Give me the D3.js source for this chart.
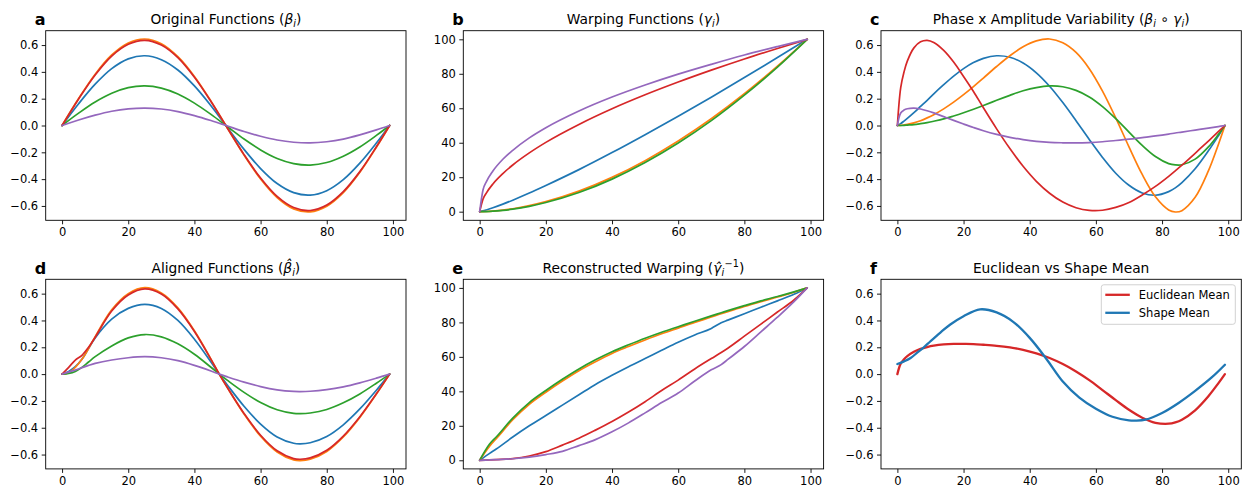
<!DOCTYPE html>
<html>
<head>
<meta charset="utf-8">
<script src="https://cdn.jsdelivr.net/npm/d3@7"></script>
<style>
  body { margin: 0; background: #fff; }
  svg { font-family: "DejaVu Sans", sans-serif; }
</style>
</head>
<body>
<svg id="fig" width="1244" height="491"></svg>
<script>
// ---- data ----
// a: original functions
const aX = [0,5,10,15,20,25,30,35,40,45,50,55,60,65,70,75,80,85,90,95,99];
const aBlue   = [0,0.162,0.308,0.424,0.497,0.520,0.491,0.414,0.295,0.147,-0.017,-0.178,-0.321,-0.433,-0.501,-0.519,-0.486,-0.404,-0.281,-0.131,0];
const aOrange = [0,0.201,0.383,0.526,0.616,0.645,0.610,0.513,0.366,0.182,-0.021,-0.221,-0.399,-0.537,-0.622,-0.644,-0.602,-0.501,-0.349,-0.162,0];
const aGreen  = [0,0.092,0.175,0.240,0.282,0.295,0.279,0.235,0.167,0.083,-0.009,-0.101,-0.182,-0.246,-0.284,-0.295,-0.276,-0.229,-0.160,-0.074,0];
const aRed    = [0,0.198,0.377,0.518,0.606,0.635,0.600,0.506,0.360,0.179,-0.020,-0.217,-0.392,-0.529,-0.612,-0.634,-0.593,-0.493,-0.344,-0.159,0];
const aPurple = [0,0.041,0.077,0.106,0.124,0.130,0.123,0.104,0.074,0.037,-0.004,-0.045,-0.080,-0.108,-0.125,-0.130,-0.121,-0.101,-0.070,-0.033,0];

// b: warping functions
const bX = [0,1,2,4,7,10,15,20,30,40,50,60,70,80,90,99];
const bBlue   = [0,0.44,1.0,2.27,4.39,6.68,10.8,15.2,24.4,34.3,44.7,55.4,66.4,77.8,89.4,100];
const bOrange = [0,0.03,0.1,0.33,0.9,1.69,3.48,5.8,11.9,19.9,29.6,41.0,53.9,68.4,84.4,100];
const bGreen  = [0,0.02,0.08,0.27,0.76,1.47,3.1,5.3,11.1,18.9,28.5,39.8,52.8,67.6,83.9,100];
const bRed    = [0,7.3,10.8,16.1,22.1,27.1,34.1,40.2,50.6,59.7,67.8,75.2,82.1,88.6,94.7,100];
const bPurple = [0,12.6,17.3,23.6,30.4,35.6,42.8,48.7,58.4,66.5,73.5,79.8,85.5,90.9,95.8,100];

// c: phase x amplitude variability
const cX = [0,1,2,3,5,7,9,11,14,17,20,23,26,30,34,38,42,46,50,54,58,62,66,70,74,78,82,84,86,90,94,97,99];
const cBlue   = [0,0.014,0.033,0.053,0.096,0.142,0.188,0.236,0.304,0.368,0.424,0.469,0.501,0.520,0.509,0.466,0.393,0.293,0.171,0.036,-0.104,-0.238,-0.356,-0.446,-0.503,-0.520,-0.493,-0.465,-0.426,-0.323,-0.189,-0.078,0];
const cOrange = [0,0.001,0.004,0.008,0.020,0.036,0.057,0.081,0.124,0.174,0.230,0.290,0.354,0.440,0.520,0.587,0.631,0.645,0.617,0.545,0.424,0.257,0.057,-0.159,-0.365,-0.532,-0.630,-0.645,-0.635,-0.536,-0.339,-0.143,0];
const cGreen  = [0,0,0.001,0.003,0.007,0.014,0.022,0.032,0.049,0.071,0.095,0.121,0.149,0.188,0.225,0.259,0.283,0.295,0.289,0.262,0.213,0.141,0.051,-0.049,-0.148,-0.231,-0.284,-0.294,-0.293,-0.251,-0.160,-0.068,0];
const cRed    = [0,0.281,0.399,0.480,0.579,0.624,0.635,0.619,0.560,0.473,0.366,0.254,0.132,-0.025,-0.172,-0.304,-0.416,-0.505,-0.571,-0.613,-0.633,-0.632,-0.611,-0.574,-0.518,-0.454,-0.379,-0.338,-0.296,-0.207,-0.116,-0.046,0];
const cPurple = [0,0.093,0.115,0.125,0.130,0.123,0.110,0.094,0.066,0.038,0.011,-0.015,-0.039,-0.066,-0.088,-0.105,-0.118,-0.126,-0.129,-0.130,-0.127,-0.121,-0.112,-0.102,-0.090,-0.078,-0.064,-0.056,-0.049,-0.034,-0.019,-0.008,0];

// d: aligned functions
const dX = [0,2,4,6,8,10,15,20,25,30,35,40,45,47.5,50,55,60,65,70,72,75,80,85,90,95,99];
const dBlue   = [0,0.02,0.055,0.11,0.19,0.27,0.41,0.49,0.52,0.49,0.40,0.26,0.09,0,-0.083,-0.24,-0.373,-0.469,-0.516,-0.52,-0.512,-0.465,-0.378,-0.26,-0.12,0];
const dOrange = [0,0.01,0.05,0.11,0.19,0.28,0.48,0.60,0.645,0.605,0.494,0.323,0.112,0,-0.103,-0.298,-0.463,-0.581,-0.64,-0.645,-0.635,-0.577,-0.469,-0.323,-0.149,0];
const dGreen  = [0,0.005,0.02,0.05,0.09,0.13,0.21,0.27,0.295,0.278,0.226,0.148,0.051,0,-0.047,-0.136,-0.212,-0.266,-0.293,-0.295,-0.29,-0.264,-0.214,-0.148,-0.068,0];
const dRed    = [0,0.05,0.105,0.14,0.2,0.275,0.47,0.59,0.635,0.597,0.486,0.318,0.11,0,-0.102,-0.293,-0.456,-0.572,-0.63,-0.635,-0.625,-0.568,-0.462,-0.318,-0.147,0];
const dPurple = [0,0.015,0.03,0.048,0.065,0.08,0.105,0.122,0.13,0.122,0.10,0.065,0.023,0,-0.021,-0.06,-0.093,-0.117,-0.129,-0.13,-0.128,-0.116,-0.095,-0.065,-0.03,0];

// e: reconstructed warping
const eX = [0,3,5,10,15,20,25,30,35,40,45,50,55,60,65,70,73,75,80,85,90,95,99];
const eBlue   = [0,4,6.5,13.5,20,26,32,38,44,49.3,54.3,59,63.8,68.5,72.7,76.5,79.8,81.3,85,88.8,92.5,96.3,100];
const eOrange = [0,8.2,12.5,23.5,32.5,39.5,46,52,57.2,62,66,69.8,73.4,76.7,80,83.1,85,86.2,89.2,92,94.7,97.5,100];
const eGreen  = [0,9.4,13.5,24.5,33.5,40.5,47,53,58.3,63,67,70.8,74.3,77.5,80.7,83.8,85.6,86.8,89.7,92.5,95,97.7,100];
const eRed    = [0,0.2,0.4,1,2.5,5,8.8,12.8,17.5,22.5,28,34,40.5,46.5,53,59,62.5,65,72,79,86,93,100];
const ePurple = [0,0.2,0.4,0.9,1.8,3.3,5.2,8.5,12,16.5,21.7,27.5,33.5,39,46,52.5,55.5,58.5,66,74.5,83,92,100];

// f: euclidean vs shape mean
const fEuclidX = cX;
const fEuclid = [0,0.078,0.110,0.134,0.166,0.188,0.202,0.212,0.221,0.225,0.225,0.224,0.219,0.211,0.199,0.181,0.155,0.120,0.075,0.020,-0.045,-0.119,-0.194,-0.266,-0.325,-0.363,-0.370,-0.360,-0.340,-0.270,-0.165,-0.069,0];
const fShapeX = [0,2,4,6,8,10,13,16,20,25,30,35,40,45,50,55,60,65,70,72,75,80,85,90,95,99];
const fShape = [0.075,0.095,0.12,0.16,0.2,0.245,0.31,0.37,0.432,0.483,0.46,0.39,0.27,0.115,-0.055,-0.175,-0.258,-0.318,-0.345,-0.347,-0.34,-0.29,-0.215,-0.125,-0.025,0.07];

const xTicks = [0,20,40,60,80,100];
const ampTicks = [-0.6,-0.4,-0.2,0,0.2,0.4,0.6];
const warpTicks = [0,20,40,60,80,100];

// ---- layout ----
const colors = {blue:'#1f77b4', orange:'#ff7f0e', green:'#2ca02c', red:'#d62728', purple:'#9467bd'};
const colLeft = [45.7, 463.3, 881];
const rowTop = [30.7, 279.3];
const plotW = 360.3, plotH = 189.6;
const ampDomain = [-0.707, 0.707], warpDomain = [-5, 105];

function five(xs, b, o, g, r, p) {
  return [
    {x: xs, y: b, color: colors.blue},
    {x: xs, y: o, color: colors.orange},
    {x: xs, y: g, color: colors.green},
    {x: xs, y: r, color: colors.red},
    {x: xs, y: p, color: colors.purple}
  ];
}

const panels = [
  {label:'a', col:0, row:0, yDomain:ampDomain, yTicks:ampTicks, curve:d3.curveCatmullRom,
   title:[['Original Functions ('], ['β','it'], ['i','sub'], [')','base']],
   series: five(aX, aBlue, aOrange, aGreen, aRed, aPurple)},
  {label:'b', col:1, row:0, yDomain:warpDomain, yTicks:warpTicks, curve:d3.curveMonotoneX,
   title:[['Warping Functions ('], ['γ','it'], ['i','sub'], [')','base']],
   series: five(bX, bBlue, bOrange, bGreen, bRed, bPurple)},
  {label:'c', col:2, row:0, yDomain:ampDomain, yTicks:ampTicks, curve:d3.curveCatmullRom,
   title:[['Phase x Amplitude Variability ('], ['β','it'], ['i','sub'], [' ∘ ','base'], ['γ','it'], ['i','sub'], [')','base']],
   series: five(cX, cBlue, cOrange, cGreen, cRed, cPurple)},
  {label:'d', col:0, row:1, yDomain:ampDomain, yTicks:ampTicks, curve:d3.curveCatmullRom,
   title:[['Aligned Functions ('], ['β\u0302','it'], ['i','sub'], [')','base']],
   series: five(dX, dBlue, dOrange, dGreen, dRed, dPurple)},
  {label:'e', col:1, row:1, yDomain:warpDomain, yTicks:warpTicks, curve:d3.curveMonotoneX,
   title:[['Reconstructed Warping ('], ['γ\u0302','it'], ['i','sub'], ['−1','sup'], [')','base']],
   series: five(eX, eBlue, eOrange, eGreen, eRed, ePurple)},
  {label:'f', col:2, row:1, yDomain:ampDomain, yTicks:ampTicks, curve:d3.curveCatmullRom, width:2.3,
   title:[['Euclidean vs Shape Mean']],
   series: [
     {x: fEuclidX, y: fEuclid, color: colors.red, name:'Euclidean Mean'},
     {x: fShapeX, y: fShape, color: colors.blue, name:'Shape Mean'}
   ],
   legend: true}
];

const svg = d3.select('#fig');
const fmtAmp = d3.format('.1f');

panels.forEach(function (p) {
  const left = colLeft[p.col], top = rowTop[p.row];
  const x = d3.scaleLinear().domain([-4.95, 103.95]).range([0, plotW]);
  const y = d3.scaleLinear().domain(p.yDomain).range([plotH, 0]);
  const g = svg.append('g').attr('transform', 'translate(' + left + ',' + top + ')');

  // lines
  p.series.forEach(function (s) {
    const pts = s.x.map(function (xv, i) { return [xv, s.y[i]]; });
    const line = d3.line()
      .x(function (d) { return x(d[0]); })
      .y(function (d) { return y(d[1]); })
      .curve(p.curve);
    g.append('path')
      .datum(pts)
      .attr('fill', 'none')
      .attr('stroke', s.color)
      .attr('stroke-width', p.width || 1.7)
      .attr('stroke-linejoin', 'round')
      .attr('stroke-linecap', 'round')
      .attr('d', line);
  });

  // axes
  const xAxis = g.append('g')
    .attr('transform', 'translate(0,' + plotH + ')')
    .call(d3.axisBottom(x).tickValues(xTicks).tickSize(4).tickPadding(3.5).tickFormat(d3.format('d')));
  const yAxis = g.append('g')
    .call(d3.axisLeft(y).tickValues(p.yTicks).tickSize(4).tickPadding(3.5)
      .tickFormat(p.yDomain === ampDomain ? function (d) { return fmtAmp(d); } : d3.format('d')));
  [xAxis, yAxis].forEach(function (ax) {
    ax.select('.domain').remove();
    ax.selectAll('line').attr('stroke', '#000').attr('stroke-width', 0.9);
    ax.selectAll('text').attr('font-size', '11.5px').attr('fill', '#000')
      .attr('font-family', '"DejaVu Sans", sans-serif');
  });

  // frame
  g.append('rect')
    .attr('x', 0).attr('y', 0).attr('width', plotW).attr('height', plotH)
    .attr('fill', 'none').attr('stroke', '#000').attr('stroke-width', 0.9);

  // title with math parts (italic symbols, sub/superscripts)
  const t = g.append('text')
    .attr('x', plotW / 2).attr('y', -6.8)
    .attr('text-anchor', 'middle')
    .attr('font-size', '13.8px').attr('fill', '#000');
  let shift = 0;
  p.title.forEach(function (part) {
    const kind = part[1];
    const ts = t.append('tspan').text(part[0]);
    if (kind === 'it') {
      ts.attr('font-style', 'italic').attr('dy', -shift); shift = 0;
    } else if (kind === 'sub') {
      ts.attr('font-style', 'italic').attr('font-size', '9.7px').attr('dy', 3 - shift); shift = 3;
    } else if (kind === 'sup') {
      ts.attr('font-size', '9.7px').attr('dx', 0.5).attr('dy', -5.5 - shift); shift = -5.5;
    } else if (kind === 'base') {
      ts.attr('dy', -shift); shift = 0;
    }
  });

  // panel label
  g.append('text')
    .attr('x', -11).attr('y', -5.5)
    .attr('font-size', '16px').attr('font-weight', 'bold').attr('fill', '#000')
    .text(p.label);

  // legend
  if (p.legend) {
    const lg = g.append('g').attr('transform', 'translate(' + (plotW - 140) + ',5.5)');
    lg.append('rect')
      .attr('x', 0).attr('y', 0).attr('width', 134).attr('height', 39.5).attr('rx', 2.5)
      .attr('fill', '#fff').attr('fill-opacity', 0.8)
      .attr('stroke', '#cccccc').attr('stroke-width', 0.9);
    p.series.forEach(function (s, i) {
      const yy = 10 + i * 18;
      lg.append('line')
        .attr('x1', 4).attr('x2', 28.5).attr('y1', yy).attr('y2', yy)
        .attr('stroke', s.color).attr('stroke-width', 2.3);
      lg.append('text')
        .attr('x', 37.5).attr('y', yy + 4.2)
        .attr('font-size', '11.5px').attr('fill', '#000')
        .text(s.name);
    });
  }
});
</script>
</body>
</html>
